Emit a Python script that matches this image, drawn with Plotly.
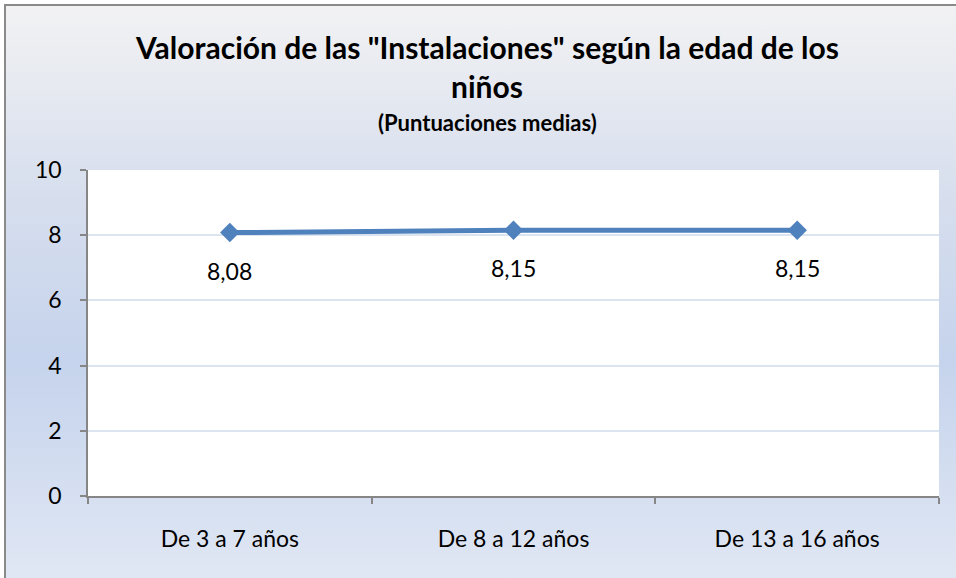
import base64
import plotly.graph_objects as go

# ---- data ----
categories = ["De 3 a 7 años", "De 8 a 12 años", "De 13 a 16 años"]
values = [8.08, 8.15, 8.15]
y_ticks = [0, 2, 4, 6, 8, 10]
title_line1 = 'Valoración de las "Instalaciones" según la edad de los'
title_line2 = "niños"
subtitle = "(Puntuaciones medias)"

W, H = 956, 578
ML, MR, MT, MB = 88, 17, 170, 82
PW, PH = W - ML - MR, H - MT - MB


def px_x(x):
    return (x - ML) / PW


def px_y(y):
    return 1 - (y - MT) / PH


FONT = "Lato"
TITLE_CX = px_x(487)

svg = f"""<svg xmlns='http://www.w3.org/2000/svg' width='{W}' height='{H}' preserveAspectRatio='none' viewBox='0 0 {W} {H}'>
<defs><linearGradient id='g' x1='0' y1='0' x2='0' y2='1'>
<stop offset='0' stop-color='#f2f2f3'/>
<stop offset='0.3' stop-color='#d9e0ee'/>
<stop offset='0.62' stop-color='#c5d3ec'/>
<stop offset='1' stop-color='#e0e7f4'/>
</linearGradient></defs>
<rect x='0' y='0' width='{W}' height='{H}' fill='url(#g)'/>
</svg>"""
src = "data:image/svg+xml;base64," + base64.b64encode(svg.encode()).decode()

fig = go.Figure()
fig.add_trace(go.Scatter(
    x=categories, y=values, mode="lines+markers",
    line=dict(color="#4f81bd", width=5),
    marker=dict(symbol="diamond", size=15, color="#4f81bd"),
    hoverinfo="skip", showlegend=False,
))

annotations = []
for c, v in zip(categories, values):
    annotations.append(dict(
        x=c, y=v, xref="x", yref="y", text=f"{v:.2f}".replace(".", ","),
        showarrow=False, yshift=-38, font=dict(family=FONT, size=23, color="#000"),
    ))

annotations += [
    dict(x=TITLE_CX, y=px_y(47), xref="paper", yref="paper", xanchor="center", yanchor="middle",
         text=f"<b>{title_line1}</b>", showarrow=False,
         font=dict(family=FONT, size=30, color="#000")),
    dict(x=TITLE_CX, y=px_y(86), xref="paper", yref="paper", xanchor="center", yanchor="middle",
         text=f"<b>{title_line2}</b>", showarrow=False,
         font=dict(family=FONT, size=30, color="#000")),
    dict(x=TITLE_CX, y=px_y(123), xref="paper", yref="paper", xanchor="center", yanchor="middle",
         text=f"<b>{subtitle}</b>", showarrow=False,
         font=dict(family=FONT, size=22, color="#000")),
]

shapes = [
    # white plot area
    dict(type="rect", xref="paper", yref="paper", x0=0, x1=1, y0=0, y1=1,
         fillcolor="white", line=dict(width=0), layer="below"),
    # outer border (top/left visible)
    dict(type="rect", xref="paper", yref="paper",
         x0=px_x(5), x1=px_x(W + 10), y0=px_y(H + 10), y1=px_y(5),
         fillcolor="rgba(0,0,0,0)", line=dict(color="#8a8a8a", width=2), layer="above"),
]

images = [dict(source=src, xref="paper", yref="paper", x=px_x(5), y=px_y(5),
               sizex=px_x(W) - px_x(5), sizey=px_y(5) - px_y(H), sizing="stretch",
               xanchor="left", yanchor="top", layer="below")]

fig.update_layout(
    width=W, height=H,
    margin=dict(l=ML, r=MR, t=MT, b=MB),
    paper_bgcolor="white", plot_bgcolor="rgba(0,0,0,0)",
    font=dict(family=FONT, color="#000"),
    annotations=annotations, shapes=shapes, images=images,
    showlegend=False,
)
fig.update_xaxes(
    type="category", range=[-0.5, 2.5], tickson="boundaries", ticks="outside", ticklen=6,
    tickcolor="#868686", tickwidth=1.5, showline=True, linecolor="#868686", linewidth=1.5,
    showgrid=False, tickfont=dict(family=FONT, size=23), ticklabelstandoff=22,
)
fig.update_yaxes(
    range=[0, 10], tickvals=y_ticks, ticks="outside", ticklen=6,
    tickcolor="#868686", tickwidth=1.5, showline=True, linecolor="#868686", linewidth=1.5,
    showgrid=True, gridcolor="#dce4f0", gridwidth=2, zeroline=False,
    tickfont=dict(family=FONT, size=23), ticklabelstandoff=14,
)

fig.write_html(
    "out.html",
    config={"displayModeBar": False},
    post_script="document.body.style.margin='0';document.body.style.overflow='hidden';",
)
